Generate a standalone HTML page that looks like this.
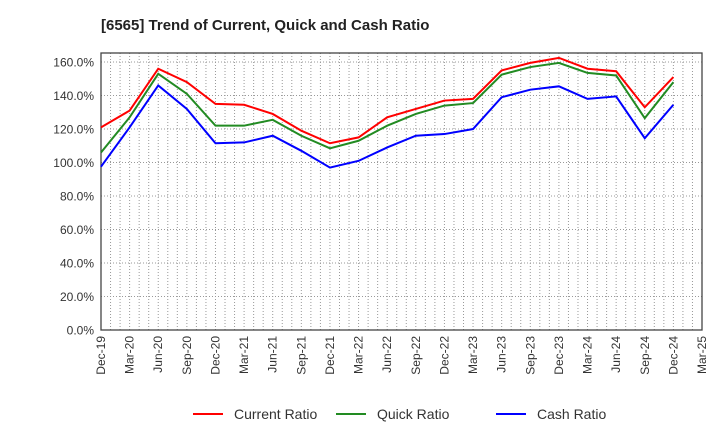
<!DOCTYPE html>
<html><head><meta charset="utf-8"><style>
body{margin:0;background:#fff;font-family:"Liberation Sans",Arial,sans-serif;}
svg text{font-family:"Liberation Sans",Arial,sans-serif;}
</style></head><body>
<svg id="c" width="720" height="440">
<text x="101" y="30" font-size="15" font-weight="bold" fill="#222">[6565]  Trend of Current, Quick and Cash Ratio</text>
<g id="grid"></g><g id="axes"></g><g id="series"></g><g id="legend"></g>
</svg>
<script>
const categories=["Dec-19","Mar-20","Jun-20","Sep-20","Dec-20","Mar-21","Jun-21","Sep-21","Dec-21","Mar-22","Jun-22","Sep-22","Dec-22","Mar-23","Jun-23","Sep-23","Dec-23","Mar-24","Jun-24","Sep-24","Dec-24","Mar-25"];
const currentRatio=[121,131,156,148,135,134.5,129,119,111.5,115,127,132,137,138,155,159.5,162.5,156,154.5,133,151];
const quickRatio=[106,127,153,141,122,122,125.5,116,108.5,113,122,129,134,135.5,152.5,157,159.5,153.5,152,126.5,148];
const cashRatio=[97.5,121,146,132,111.5,112,116,107,97,101,109,116,117,120,139,143.5,145.5,138,139.5,114.5,134.5];
const yTicks=[0,20,40,60,80,100,120,140,160];
const NS="http://www.w3.org/2000/svg";
const L=101,R=702,T=53,B=330,yMax=165.4;
const x=i=>L+i*(R-L)/(categories.length-1);
const y=v=>B-v*(B-T)/yMax;
function mk(tag,attrs,parent,text){const e=document.createElementNS(NS,tag);for(const k in attrs)e.setAttribute(k,attrs[k]);if(text!==undefined)e.textContent=text;parent.appendChild(e);return e;}
const grid=document.getElementById('grid'),axes=document.getElementById('axes'),ser=document.getElementById('series'),leg=document.getElementById('legend');
for(let m=1;m<(categories.length-1)*3;m++){const xx=L+m*(R-L)/((categories.length-1)*3);
const g=mk('line',{x1:xx,x2:xx,y1:T,y2:B,stroke:'#999','stroke-dasharray':'1,2','stroke-width':1},grid);

}
yTicks.forEach(v=>{if(v>0){const g=mk('line',{x1:L,x2:R,y1:y(v),y2:y(v),stroke:'#999','stroke-dasharray':'1,2'},grid);

}
const t=mk('text',{x:L-7,y:y(v)+4.5,'text-anchor':'end','font-size':12,fill:'#333'},axes,v.toFixed(1)+'%');

});
const fr=mk('rect',{x:L,y:T,width:R-L,height:B-T,fill:'none',stroke:'#444','stroke-width':1.3},axes);


categories.forEach((c,i)=>{const t=mk('text',{transform:`translate(${x(i)+4},${B+6}) rotate(-90)`,'text-anchor':'end','font-size':12,fill:'#333'},axes,c);

});
const series=[["Current Ratio",currentRatio,"#ff0000"],["Quick Ratio",quickRatio,"#228b22"],["Cash Ratio",cashRatio,"#0000ff"]];
series.forEach(([n,d,col])=>{const p=mk('polyline',{points:d.map((v,i)=>x(i)+','+y(v)).join(' '),fill:'none',stroke:col,'stroke-width':2},ser);

});
const lx=[193,336,496];
series.forEach(([n,d,col],k)=>{const g=mk('g',{},leg);


mk('line',{x1:lx[k],x2:lx[k]+30,y1:414,y2:414,stroke:col,'stroke-width':2},g);
mk('text',{x:lx[k]+41,y:419,'font-size':14,fill:'#333'},g,n);});
</script>
</body></html>
